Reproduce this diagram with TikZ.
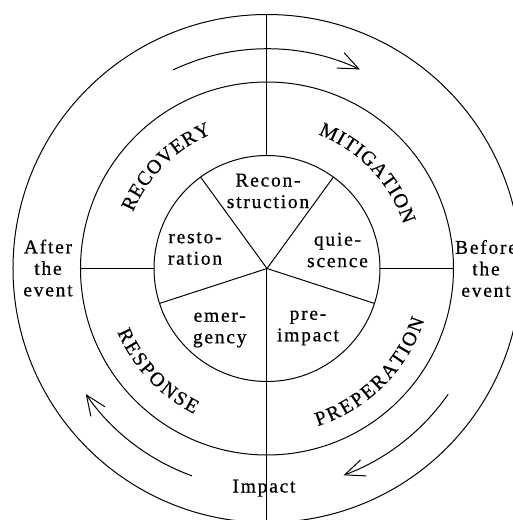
\documentclass[tikz,border=0pt]{standalone}
\usepackage{fontspec}
\setmainfont{Liberation Serif}[LetterSpace=9, FakeBold=0.7]
\newfontfamily\plainf{Liberation Serif}[FakeBold=0.5]
\usetikzlibrary{arrows.meta}
\newcommand\arcls{1.5}
% #1 centre angle, #2 radius (pt), #3 direction (1 ccw, -1 cw), #4 letters, #5 name prefix
\newcommand\arcword[5]{%
  \begingroup
  \plainf\fontsize{20}{22}\selectfont
  \gdef\arctot{0}%
  \foreach \ch in {#4}{%
    \pgfmathwidth{"\ch"}%
    \pgfmathparse{\arctot+\pgfmathresult+\arcls}%
    \xdef\arctot{\pgfmathresult}}%
  \pgfmathparse{\arctot-\arcls}\xdef\arctot{\pgfmathresult}%
  \gdef\arcacc{0}%
  \foreach \ch [count=\k] in {#4}{%
    \pgfmathwidth{"\ch"}\let\chw\pgfmathresult
    \pgfmathsetmacro\arcang{#1+(#3)*(\arcacc+\chw/2-\arctot/2)/#2*180/pi}%
    \pgfmathsetmacro\arcrot{\arcang+(#3)*90}%
    \node[arcletter, rotate=\arcrot] (#5\k) at (\arcang:#2pt) {\ch};
    \pgfmathparse{\arcacc+\chw+\arcls}\xdef\arcacc{\pgfmathresult}}%
  \endgroup}
\begin{document}
\begin{tikzpicture}[
  line width=1pt,
  ring/.style={draw, circle, inner sep=0pt, outer sep=0pt},
  lbl/.style={align=center, inner sep=0pt, font=\fontsize{19.5}{21.5}\selectfont},
  arcletter/.style={inner sep=0pt, font=\plainf\fontsize{20}{22}\selectfont},
  arr/.style={-{Straight Barb[length=20pt,width=17pt]}}
]
\useasboundingbox (-267pt,-251.5pt) rectangle (245pt,268.5pt);
\coordinate (O) at (0pt,0pt);
% circles
\node[ring, minimum size=226pt] (inner) at (O) {};
\node[ring, minimum size=373pt] (middle) at (O) {};
\node[ring, minimum size=508pt] (outer) at (O) {};
% dividing lines
\draw (inner.north) -- (outer.north);
\draw (O) -- (outer.south);
\draw (O) -- (inner.54);
\draw (O) -- (inner.126);
\draw (O) -- (inner.198);
\draw (O) -- (inner.342);
\draw (inner.west) -- (middle.west);
\draw (inner.east) -- (middle.east);
% cycle arrows
\coordinate (a1) at (115.3:219.7pt);
\draw[arr] (a1) arc[start angle=115.3, end angle=65, radius=219.7pt];
\coordinate (a2) at (250.1:220.5pt);
\draw[arr] (a2) arc[start angle=250.1, end angle=214.7, radius=220.5pt];
\coordinate (a3) at (-34.75:220.5pt);
\draw[arr] (a3) arc[start angle=-34.75, end angle=-69.7, radius=220.5pt];
% inner labels
\node[lbl] (recon) at (1pt,77.5pt) {Recon-\\struction};
\node[lbl] (resto) at (-72pt,20pt) {resto-\\ration};
\node[lbl] (quie) at (70.5pt,18.5pt) {quie-\\scence};
\node[lbl] (emer) at (-47.3pt,-61.5pt) {emer-\\gency};
\node[lbl] (pre) at (41pt,-59.5pt) {pre-\\impact};
% outer labels
\node[lbl] (after) at (-219pt,0.5pt) {After\\the\\event};
\node[lbl] (before) at (219pt,0pt) {Before\\the\\event};
\node[lbl, anchor=base] (impact) at (-3pt,-224pt) {Impact};
% phase names along the ring
\arcword{134.75}{152}{-1}{R,E,C,O,V,E,R,Y}{rec}
\arcword{43.5}{150}{-1}{M,I,T,I,G,A,T,I,O,N}{mit}
\arcword{223.2}{156}{1}{R,E,S,P,O,N,S,E}{res}
\arcword{-45.1}{159}{1}{P,R,E,P,E,R,A,T,I,O,N}{prep}
\end{tikzpicture}
\end{document}
